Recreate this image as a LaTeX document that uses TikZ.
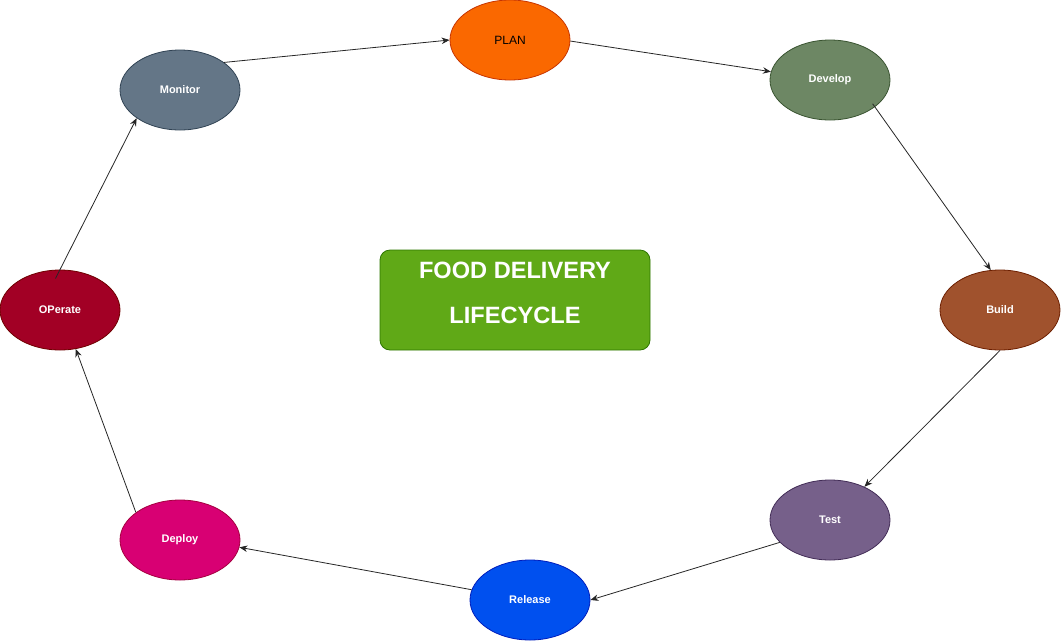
\documentclass[tikz,border=0pt]{standalone}
\usepackage{fontspec}
\setmainfont{Liberation Sans}
\usetikzlibrary{shapes.geometric}
\usetikzlibrary{arrows.meta}
\usetikzlibrary{positioning}

\definecolor{planfill}{HTML}{FA6800}\definecolor{planline}{HTML}{C73500}
\definecolor{devfill}{HTML}{6D8764}\definecolor{devline}{HTML}{3A5431}
\definecolor{buildfill}{HTML}{A0522D}\definecolor{buildline}{HTML}{6D1F00}
\definecolor{testfill}{HTML}{76608A}\definecolor{testline}{HTML}{432D57}
\definecolor{relfill}{HTML}{0050EF}\definecolor{relline}{HTML}{001DBC}
\definecolor{depfill}{HTML}{D80073}\definecolor{depline}{HTML}{A50040}
\definecolor{opfill}{HTML}{A20025}\definecolor{opline}{HTML}{6F0000}
\definecolor{monfill}{HTML}{647687}\definecolor{monline}{HTML}{314354}
\definecolor{boxfill}{HTML}{60A917}\definecolor{boxline}{HTML}{2D7600}

\begin{document}
\begin{tikzpicture}[
  x=1pt,y=-1pt,
  phase/.style={ellipse,draw,line width=0.8pt,minimum width=120pt,minimum height=80pt,
    inner sep=0pt,text=white,font=\fontsize{11}{13}\selectfont\bfseries},
  flow/.style={draw=black!85,line width=0.8pt,-{Stealth[length=8pt,width=6.5pt]}},
  centerbox/.style={draw=boxline,fill=boxfill,rounded corners=10pt,line width=0.8pt,
    minimum width=270pt,minimum height=100pt}]
\useasboundingbox (0,0) rectangle (1061,641);
% phases of the cycle
\node[phase,fill=planfill,draw=planline,text=black,font=\fontsize{12}{14}\selectfont] (plan) at (510,40) {PLAN};
\node[phase,fill=devfill,draw=devline] (develop) at (830,80) {Develop};
\node[phase,fill=buildfill,draw=buildline] (build) at (1000,310) {Build};
\node[phase,fill=testfill,draw=testline] (test) at (830,520) {Test};
\node[phase,fill=relfill,draw=relline] (release) at (530,600) {Release};
\node[phase,fill=depfill,draw=depline] (deploy) at (180,540) {Deploy};
\node[phase,fill=opfill,draw=opline] (operate) at (60,310) {OPerate};
\node[phase,fill=monfill,draw=monline] (monitor) at (180,90) {Monitor};
% title in the middle
\node[centerbox] (lifecycle) at (515,300) {};
\node[text=white,align=center,font=\fontsize{23.6}{45}\selectfont\bfseries] (title) at (515,293)
  {FOOD DELIVERY\\LIFECYCLE};
% arrows
\draw[flow] (monitor.32) -- (plan.180);
\draw[flow] (plan.-1) -- (develop.172);
\draw[flow,shorten <=-4pt] (develop.-31) -- (build.103);
\draw[flow] (build.south) -- (test.44);
\draw[flow] (test.204) -- (release.0);
\draw[flow] (release.170) -- (deploy.-7);
\draw[flow] (deploy.148) -- (operate.-68);
\draw[flow,shorten <=-10pt] (operate.north) -- (monitor.213);
\end{tikzpicture}
\end{document}
